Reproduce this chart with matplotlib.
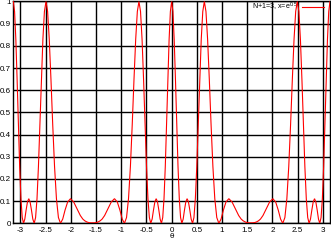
import matplotlib
matplotlib.use("Agg")
import matplotlib.pyplot as plt

# theta values (radians) and curve values
theta = [
    -3.1416, -3.1164, -3.0912, -3.0660, -3.0407, -3.0154, -2.9900, -2.9645, -2.9388, -2.9131,
    -2.8871, -2.8610, -2.8347, -2.8082, -2.7814, -2.7544, -2.7271, -2.6994, -2.6713, -2.6429,
    -2.6140, -2.5846, -2.5547, -2.5241, -2.4929, -2.4609, -2.4281, -2.3943, -2.3594, -2.3233,
    -2.2857, -2.2464, -2.2050, -2.1612, -2.1143, -2.0635, -2.0073, -1.9434, -1.8666, -1.8116,
    -1.7622, -1.7216, -1.6816, -1.6416, -1.6016, -1.5708, -1.5400, -1.5000, -1.4600, -1.4200,
    -1.3794, -1.3300, -1.2750, -1.1982, -1.1343, -1.0781, -1.0273, -0.9804, -0.9366, -0.8952,
    -0.8559, -0.8183, -0.7822, -0.7473, -0.7135, -0.6807, -0.6487, -0.6175, -0.5869, -0.5570,
    -0.5276, -0.4987, -0.4703, -0.4422, -0.4145, -0.3872, -0.3602, -0.3334, -0.3069, -0.2806,
    -0.2545, -0.2285, -0.2028, -0.1771, -0.1516, -0.1262, -0.1009, -0.0756, -0.0504, -0.0252,
    0.0,
    0.0252, 0.0504, 0.0756, 0.1009, 0.1262, 0.1516, 0.1771, 0.2028, 0.2285, 0.2545,
    0.2806, 0.3069, 0.3334, 0.3602, 0.3872, 0.4145, 0.4422, 0.4703, 0.4987, 0.5276,
    0.5570, 0.5869, 0.6175, 0.6487, 0.6807, 0.7135, 0.7473, 0.7822, 0.8183, 0.8559,
    0.8952, 0.9366, 0.9804, 1.0273, 1.0781, 1.1343, 1.1982, 1.2750, 1.3300, 1.3794,
    1.4200, 1.4600, 1.5000, 1.5400, 1.5708, 1.6016, 1.6416, 1.6816, 1.7216, 1.7622,
    1.8116, 1.8666, 1.9434, 2.0073, 2.0635, 2.1143, 2.1612, 2.2050, 2.2464, 2.2857,
    2.3233, 2.3594, 2.3943, 2.4281, 2.4609, 2.4929, 2.5241, 2.5547, 2.5846, 2.6140,
    2.6429, 2.6713, 2.6994, 2.7271, 2.7544, 2.7814, 2.8082, 2.8347, 2.8610, 2.8871,
    2.9131, 2.9388, 2.9645, 2.9900, 3.0154, 3.0407, 3.0660, 3.0912, 3.1164, 3.1416,
]

response = [
    1.000, 0.955, 0.829, 0.648, 0.444, 0.256, 0.111, 0.026, 0.000, 0.019,
    0.060, 0.096, 0.111, 0.096, 0.060, 0.019, 0.000, 0.026, 0.111, 0.256,
    0.444, 0.648, 0.829, 0.955, 1.000, 0.955, 0.829, 0.648, 0.444, 0.256,
    0.111, 0.026, 0.000, 0.019, 0.060, 0.096, 0.111, 0.096, 0.060, 0.035,
    0.019, 0.011, 0.006, 0.003, 0.002, 0.002, 0.002, 0.003, 0.006, 0.011,
    0.019, 0.035, 0.060, 0.096, 0.111, 0.096, 0.060, 0.019, 0.000, 0.026,
    0.111, 0.256, 0.444, 0.648, 0.829, 0.955, 1.000, 0.955, 0.829, 0.648,
    0.444, 0.256, 0.111, 0.026, 0.000, 0.019, 0.060, 0.096, 0.111, 0.096,
    0.060, 0.019, 0.000, 0.026, 0.111, 0.256, 0.444, 0.648, 0.829, 0.955,
    1.000,
    0.955, 0.829, 0.648, 0.444, 0.256, 0.111, 0.026, 0.000, 0.019, 0.060,
    0.096, 0.111, 0.096, 0.060, 0.019, 0.000, 0.026, 0.111, 0.256, 0.444,
    0.648, 0.829, 0.955, 1.000, 0.955, 0.829, 0.648, 0.444, 0.256, 0.111,
    0.026, 0.000, 0.019, 0.060, 0.096, 0.111, 0.096, 0.060, 0.035, 0.019,
    0.011, 0.006, 0.003, 0.002, 0.002, 0.002, 0.003, 0.006, 0.011, 0.019,
    0.035, 0.060, 0.096, 0.111, 0.096, 0.060, 0.019, 0.000, 0.026, 0.111,
    0.256, 0.444, 0.648, 0.829, 0.955, 1.000, 0.955, 0.829, 0.648, 0.444,
    0.256, 0.111, 0.026, 0.000, 0.019, 0.060, 0.096, 0.111, 0.096, 0.060,
    0.019, 0.000, 0.026, 0.111, 0.256, 0.444, 0.648, 0.829, 0.955, 1.000,
]

x_ticks = [-3, -2.5, -2, -1.5, -1, -0.5, 0, 0.5, 1, 1.5, 2, 2.5, 3]
x_tick_labels = ["-3", "-2.5", "-2", "-1.5", "-1", "-0.5", "0", "0.5", "1", "1.5", "2", "2.5", "3"]
y_ticks = [0, 0.1, 0.2, 0.3, 0.4, 0.5, 0.6, 0.7, 0.8, 0.9, 1]
y_tick_labels = ["0", "0.1", "0.2", "0.3", "0.4", "0.5", "0.6", "0.7", "0.8", "0.9", "1"]
series_label = "N+1=3, x=e$^{0.5}$"
x_label = "θ"

plt.rcParams["font.family"] = ["Liberation Sans", "DejaVu Sans"]
plt.rcParams["mathtext.fontset"] = "custom"
plt.rcParams["mathtext.rm"] = "Liberation Sans"
plt.rcParams["mathtext.it"] = "Liberation Sans"

W, H = 331, 243
fig = plt.figure(figsize=(W / 100, H / 100), dpi=100)
left, right, top, bottom = 13.3, 330.0, 1.5, 223.3
ax = fig.add_axes([left / W, 1 - bottom / H, (right - left) / W, (bottom - top) / H])

ax.plot(theta, response, color="#ff0000", lw=0.8, zorder=4, label=series_label,
        solid_joinstyle="miter")

ax.set_xlim(theta[0], theta[-1])
ax.set_ylim(0, 1)
ax.set_xticks(x_ticks)
ax.set_xticklabels(x_tick_labels)
ax.set_yticks(y_ticks)
ax.set_yticklabels(y_tick_labels)
ax.tick_params(length=0, labelsize=5.8, colors="black")
ax.tick_params(axis="x", pad=2.6)
ax.tick_params(axis="y", pad=1.6)
ax.grid(True, color="black", lw=1.0, ls="-", zorder=1)
ax.set_axisbelow(True)
for s in ax.spines.values():
    s.set_color("black")
    s.set_linewidth(1.0)
ax.set_xlabel(x_label, fontsize=5.4, labelpad=-0.5, family=["DejaVu Sans"])

leg = ax.legend(loc="center right", bbox_to_anchor=(323.5 / W, 1 - 7 / H),
                bbox_transform=fig.transFigure, frameon=False, markerfirst=False,
                fontsize=5.1, handlelength=3.0, handletextpad=0.6,
                borderpad=0, borderaxespad=0)
leg.set_zorder(2)

fig.savefig("out.png", dpi=100)
